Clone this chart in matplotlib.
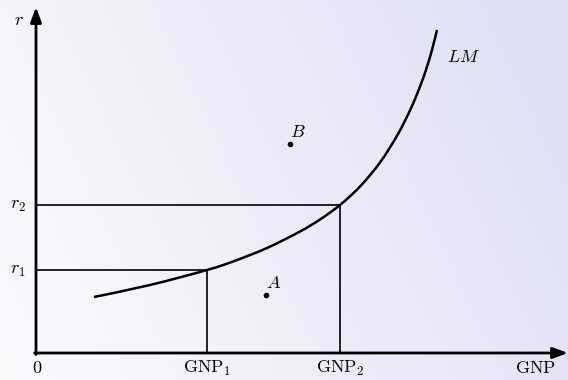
import numpy as np
import matplotlib
matplotlib.use("Agg")
import matplotlib.pyplot as plt
from matplotlib.path import Path
from matplotlib.patches import PathPatch

plt.rcParams['mathtext.fontset'] = 'cm'
plt.rcParams['font.family'] = 'serif'
plt.rcParams['font.serif'] = ['DejaVu Serif']

# LM curve points (GNP, r)
lm_gnp = [58, 114, 171, 197, 231, 264, 284, 304, 324, 344, 362, 376, 387, 395, 401]
lm_r = [56, 68, 83, 91.5, 105, 121.5, 133.5, 148, 166.5, 190.5, 219, 247, 274.5, 299.5, 323]

gnp_levels = [171, 304]
r_levels = [83, 148]
gnp_labels = [r'$\mathrm{GNP}_1$', r'$\mathrm{GNP}_2$']
r_labels = [r'$r_1$', r'$r_2$']

point_names = ['A', 'B']
point_gnp = [230, 254]
point_r = [58, 209]

fig = plt.figure(figsize=(5.68, 3.80), dpi=100)
ax = fig.add_axes([0, 0, 1, 1])
ax.set_xlim(-36, 532)
ax.set_ylim(-27, 353)
ax.axis('off')

# background gradient
nx, ny = 200, 100
xx = np.linspace(0, 1, nx)[None, :]
yy = np.linspace(0, 1, ny)[:, None]
t = np.clip(0.8 * xx + 0.25 * (1 - yy), 0, 1)
c0 = np.array([0.985, 0.985, 0.995])
c1 = np.array([0.875, 0.875, 0.96])
img = c0[None, None, :] * (1 - t[..., None]) + c1[None, None, :] * t[..., None]
ax.imshow(img, extent=(-36, 532, -27, 353), origin='upper', aspect='auto', zorder=0)

# axes with arrows
arrow = dict(arrowstyle='-|>,head_length=0.9,head_width=0.33', lw=2.0, color='black',
             shrinkA=0, shrinkB=0)
ax.annotate('', xy=(0, 346), xytext=(0, -1.5), arrowprops=arrow, zorder=3)
ax.annotate('', xy=(532, 0), xytext=(-1.5, 0), arrowprops=arrow, zorder=3)

# guide lines
for g, r in zip(gnp_levels, r_levels):
    ax.plot([0, g], [r, r], color='black', lw=1.2, zorder=2)
    ax.plot([g, g], [0, r], color='black', lw=1.2, zorder=2)

# LM curve drawn as smooth Bezier path through the read points
P = np.column_stack([lm_gnp, lm_r]).astype(float)
verts = [tuple(P[0])]
codes = [Path.MOVETO]
n = len(P)
for i in range(n - 1):
    p0 = P[i - 1] if i > 0 else P[i]
    p1 = P[i]
    p2 = P[i + 1]
    p3 = P[i + 2] if i + 2 < n else P[i + 1]
    c1p = p1 + (p2 - p0) / 6.0
    c2p = p2 - (p3 - p1) / 6.0
    verts += [tuple(c1p), tuple(c2p), tuple(p2)]
    codes += [Path.CURVE4] * 3
ax.add_patch(PathPatch(Path(verts, codes), fill=False, lw=1.8, edgecolor='black',
                       zorder=3, capstyle='butt'))

# points
ax.plot(point_gnp, point_r, 'o', color='black', ms=3, zorder=3)
for nme, gx, ry in zip(point_names, point_gnp, point_r):
    ax.text(gx + 8, ry + 12, '$' + nme + '$', fontsize=13, ha='center', va='center')

# labels
ax.text(-17, 333, '$r$', fontsize=13, ha='center', va='center')
for r, lab in zip(r_levels, r_labels):
    ax.text(-18, r, lab, fontsize=13, ha='center', va='center')
ax.text(1, -15, '$0$', fontsize=13, ha='center', va='center')
for g, lab in zip(gnp_levels, gnp_labels):
    ax.text(g, -15, lab, fontsize=13, ha='center', va='center')
ax.text(499, -15, r'$\mathrm{GNP}$', fontsize=13, ha='center', va='center')
ax.text(428, 296, '$LM$', fontsize=13, ha='center', va='center')

fig.savefig('out.png', dpi=100)
